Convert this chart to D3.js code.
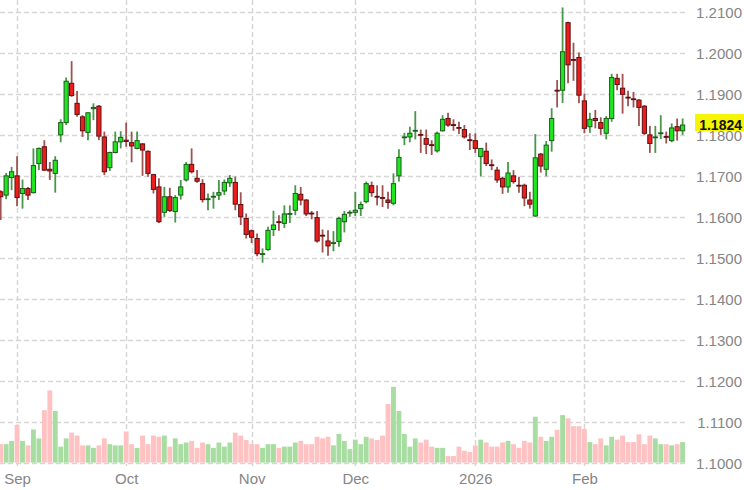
<!DOCTYPE html>
<html>
<head>
<meta charset="utf-8">
<script src="https://cdn.jsdelivr.net/npm/d3@7"></script>
<style>
  html, body { margin: 0; padding: 0; background: #ffffff; }
  svg { display: block; }
</style>
</head>
<body>
<svg id="chart" width="744" height="490"></svg>
<script>
// ---------- DATA ----------
const opens = [
  1.1661, 1.1653, 1.1696, 1.1700, 1.1657, 1.1669, 1.1659, 1.1730, 1.1771, 1.1716,
  1.1706, 1.1800, 1.1830, 1.1926, 1.1877, 1.1844, 1.1806, 1.1864, 1.1870, 1.1795,
  1.1720, 1.1757, 1.1783, 1.1787, 1.1781, 1.1767, 1.1778, 1.1760, 1.1703, 1.1673,
  1.1611, 1.1649, 1.1613, 1.1653, 1.1690, 1.1728, 1.1694, 1.1681, 1.1643, 1.1649,
  1.1653, 1.1663, 1.1683, 1.1684, 1.1630, 1.1596, 1.1566, 1.1547, 1.1509, 1.1520,
  1.1569, 1.1588, 1.1584, 1.1607, 1.1616, 1.1655, 1.1641, 1.1609, 1.1598, 1.1555,
  1.1541, 1.1535, 1.1540, 1.1588, 1.1609, 1.1611, 1.1620, 1.1637, 1.1676, 1.1650,
  1.1647, 1.1641, 1.1633, 1.1700, 1.1793, 1.1795, 1.1809, 1.1801, 1.1791, 1.1776,
  1.1761, 1.1810, 1.1840, 1.1825, 1.1818, 1.1813, 1.1788, 1.1786, 1.1747, 1.1760,
  1.1727, 1.1714, 1.1694, 1.1673, 1.1700, 1.1677, 1.1677, 1.1641, 1.1602, 1.1753,
  1.1716, 1.1786, 1.1909, 1.1909, 1.2074, 1.1984, 1.1989, 1.1883, 1.1820, 1.1840,
  1.1830, 1.1804, 1.1840, 1.1938, 1.1914, 1.1892, 1.1888, 1.1885, 1.1870, 1.1800,
  1.1793, 1.1803, 1.1796, 1.1786, 1.1820, 1.1810
];
const highs = [
  1.1665, 1.1707, 1.1722, 1.1748, 1.1691, 1.1673, 1.1767, 1.1769, 1.1787, 1.1734,
  1.1748, 1.1838, 1.1940, 1.1980, 1.1907, 1.1848, 1.1854, 1.1877, 1.1873, 1.1808,
  1.1759, 1.1808, 1.1809, 1.1830, 1.1808, 1.1808, 1.1780, 1.1762, 1.1705, 1.1694,
  1.1673, 1.1671, 1.1653, 1.1690, 1.1734, 1.1767, 1.1714, 1.1692, 1.1657, 1.1661,
  1.1690, 1.1691, 1.1702, 1.1698, 1.1660, 1.1608, 1.1569, 1.1559, 1.1523, 1.1576,
  1.1615, 1.1604, 1.1628, 1.1628, 1.1677, 1.1673, 1.1643, 1.1614, 1.1614, 1.1569,
  1.1567, 1.1565, 1.1600, 1.1614, 1.1616, 1.1661, 1.1637, 1.1686, 1.1686, 1.1677,
  1.1677, 1.1661, 1.1706, 1.1765, 1.1805, 1.1820, 1.1858, 1.1813, 1.1813, 1.1787,
  1.1808, 1.1848, 1.1854, 1.1838, 1.1832, 1.1824, 1.1804, 1.1804, 1.1767, 1.1781,
  1.1740, 1.1722, 1.1698, 1.1734, 1.1714, 1.1698, 1.1681, 1.1661, 1.1802, 1.1756,
  1.1785, 1.1865, 1.1934, 1.2111, 1.2076, 1.2025, 1.2001, 1.1901, 1.1854, 1.1861,
  1.1843, 1.1846, 1.1949, 1.1949, 1.1949, 1.1908, 1.1905, 1.1887, 1.1873, 1.1822,
  1.1822, 1.1848, 1.1808, 1.1828, 1.1840, 1.1840
];
const lows = [
  1.1592, 1.1643, 1.1665, 1.1626, 1.1620, 1.1641, 1.1657, 1.1714, 1.1712, 1.1690,
  1.1659, 1.1782, 1.1824, 1.1893, 1.1844, 1.1795, 1.1787, 1.1836, 1.1787, 1.1702,
  1.1712, 1.1755, 1.1767, 1.1771, 1.1733, 1.1765, 1.1700, 1.1698, 1.1657, 1.1585,
  1.1600, 1.1612, 1.1586, 1.1642, 1.1686, 1.1706, 1.1683, 1.1635, 1.1616, 1.1620,
  1.1641, 1.1653, 1.1673, 1.1616, 1.1580, 1.1547, 1.1536, 1.1504, 1.1488, 1.1517,
  1.1553, 1.1566, 1.1573, 1.1585, 1.1604, 1.1628, 1.1602, 1.1594, 1.1537, 1.1513,
  1.1505, 1.1516, 1.1527, 1.1562, 1.1600, 1.1602, 1.1602, 1.1633, 1.1649, 1.1628,
  1.1624, 1.1620, 1.1628, 1.1686, 1.1775, 1.1782, 1.1789, 1.1756, 1.1753, 1.1751,
  1.1757, 1.1808, 1.1820, 1.1810, 1.1802, 1.1791, 1.1763, 1.1756, 1.1699, 1.1724,
  1.1714, 1.1683, 1.1656, 1.1659, 1.1681, 1.1659, 1.1626, 1.1620, 1.1600, 1.1708,
  1.1699, 1.1759, 1.1867, 1.1878, 1.1926, 1.1932, 1.1877, 1.1804, 1.1805, 1.1816,
  1.1800, 1.1789, 1.1832, 1.1909, 1.1852, 1.1870, 1.1867, 1.1822, 1.1800, 1.1756,
  1.1756, 1.1790, 1.1779, 1.1782, 1.1786, 1.1800
];
const closes = [
  1.1649, 1.1700, 1.1710, 1.1647, 1.1669, 1.1653, 1.1725, 1.1767, 1.1714, 1.1712,
  1.1738, 1.1830, 1.1931, 1.1896, 1.1850, 1.1810, 1.1854, 1.1867, 1.1797, 1.1710,
  1.1757, 1.1783, 1.1794, 1.1784, 1.1773, 1.1786, 1.1763, 1.1706, 1.1667, 1.1588,
  1.1649, 1.1615, 1.1647, 1.1673, 1.1728, 1.1710, 1.1687, 1.1642, 1.1644, 1.1650,
  1.1659, 1.1684, 1.1694, 1.1631, 1.1600, 1.1557, 1.1550, 1.1510, 1.1510, 1.1567,
  1.1580, 1.1586, 1.1607, 1.1608, 1.1657, 1.1641, 1.1607, 1.1607, 1.1541, 1.1553,
  1.1529, 1.1537, 1.1596, 1.1606, 1.1611, 1.1616, 1.1630, 1.1681, 1.1659, 1.1648,
  1.1646, 1.1635, 1.1681, 1.1745, 1.1795, 1.1804, 1.1811, 1.1800, 1.1777, 1.1774,
  1.1804, 1.1838, 1.1824, 1.1823, 1.1817, 1.1795, 1.1786, 1.1767, 1.1767, 1.1730,
  1.1725, 1.1690, 1.1673, 1.1707, 1.1686, 1.1675, 1.1646, 1.1631, 1.1744, 1.1724,
  1.1775, 1.1840, 1.1907, 1.2003, 1.1971, 1.1982, 1.1897, 1.1816, 1.1838, 1.1835,
  1.1816, 1.1840, 1.1940, 1.1923, 1.1899, 1.1890, 1.1887, 1.1867, 1.1804, 1.1779,
  1.1795, 1.1805, 1.1795, 1.1817, 1.1810, 1.1824
];
const volumes = [
  45, 45, 53, 92, 53, 42, 81, 59, 128, 176,
  126, 39, 59, 73, 66, 42, 42, 36, 42, 59,
  45, 42, 42, 76, 45, 36, 66, 45, 66, 63,
  66, 39, 59, 45, 49, 53, 36, 49, 45, 36,
  49, 39, 49, 73, 66, 55, 45, 45, 36, 45,
  45, 36, 39, 39, 49, 53, 45, 45, 63, 59,
  63, 42, 70, 53, 33, 56, 45, 63, 59, 55,
  66, 143, 185, 126, 70, 39, 59, 49, 56, 39,
  36, 36, 16, 16, 39, 29, 26, 42, 56, 49,
  39, 39, 49, 53, 45, 36, 53, 49, 112, 63,
  53, 63, 80, 116, 108, 89, 89, 82, 50, 45,
  59, 42, 63, 56, 66, 50, 50, 69, 45, 66,
  59, 45, 45, 42, 45, 50
];
// month-start ticks: bar index and label
const xTickIndex = [3, 23, 46, 65, 87, 107];
const xTickLabels = ["Sep", "Oct", "Nov", "Dec", "2026", "Feb"];
// price ticks
const yTickValues = [1.10, 1.11, 1.12, 1.13, 1.14, 1.15, 1.16, 1.17, 1.18, 1.19, 1.20, 1.21];
const lastPrice = 1.1824;

// ---------- CHART ----------
const plotRight = 686;
const svg = d3.select("#chart");

const n = closes.length;
const x = d3.scaleLinear().domain([0, n - 1]).range([0.7, 682.6]);
const step = x(1) - x(0);
const y = d3.scaleLinear().domain([1.10, 1.21]).range([462.6, 12]);
const vh = d3.scaleLinear().domain([0, 100]).range([0, y(1.10) - y(1.11)]);

const bars = d3.range(n).map(i => ({
  i, o: opens[i], h: highs[i], l: lows[i], c: closes[i], v: volumes[i],
  up: closes[i] >= opens[i]
}));

// grid
const grid = svg.append("g").attr("stroke", "#d6d6d6").attr("stroke-width", 1.5)
  .attr("stroke-dasharray", "5,3").attr("fill", "none");
grid.selectAll("line.h").data(yTickValues).join("line")
  .attr("class", "h")
  .attr("x1", 0).attr("x2", plotRight)
  .attr("y1", d => Math.round(y(d)) + 0.5).attr("y2", d => Math.round(y(d)) + 0.5);
grid.selectAll("line.v").data(xTickIndex).join("line")
  .attr("class", "v")
  .attr("x1", d => Math.round(x(d)) + 0.5).attr("x2", d => Math.round(x(d)) + 0.5)
  .attr("y1", 0).attr("y2", 466);

// volume bars
svg.append("g").selectAll("rect").data(bars).join("rect")
  .attr("x", d => x(d.i) - step / 2 + 0.3)
  .attr("width", step - 0.6)
  .attr("y", d => y(1.10) - vh(d.v))
  .attr("height", d => vh(d.v))
  .attr("fill", d => d.up ? "#a8dda2" : "#ffc1c1");

// wicks
svg.append("g").selectAll("line").data(bars).join("line")
  .attr("x1", d => x(d.i)).attr("x2", d => x(d.i))
  .attr("y1", d => y(d.h)).attr("y2", d => y(d.l))
  .attr("stroke", d => d.up ? "#4a964a" : "#a05252")
  .attr("stroke-width", 1.8);

// bodies
const bw = 4.2;
svg.append("g").selectAll("rect").data(bars).join("rect")
  .attr("x", d => x(d.i) - bw / 2)
  .attr("width", bw)
  .attr("y", d => y(Math.max(d.o, d.c)))
  .attr("height", d => Math.max(0.8, Math.abs(y(d.o) - y(d.c))))
  .attr("fill", d => d.up ? "#1fe61f" : "#ee1c1c")
  .attr("stroke", d => d.up ? "#1d5c1d" : "#5e1010")
  .attr("stroke-width", 1);

// y axis labels (right side)
const yAxis = d3.axisRight(y).tickValues(yTickValues).tickFormat(d3.format(".4f")).tickSize(0).tickPadding(0);
const gy = svg.append("g").attr("transform", "translate(742,0)").call(yAxis);
gy.select(".domain").remove();
gy.selectAll("text")
  .attr("text-anchor", "end")
  .attr("dy", "0.36em")
  .attr("fill", "#858585")
  .style("font-family", "'Liberation Sans', Arial, sans-serif")
  .style("font-size", "15px");

// x axis labels
const xAxis = d3.axisBottom(x).tickValues(xTickIndex)
  .tickFormat((d, k) => xTickLabels[k]).tickSize(0).tickPadding(0);
const gx = svg.append("g").attr("transform", "translate(0,473)").call(xAxis);
gx.select(".domain").remove();
gx.selectAll("text")
  .attr("dy", "0.71em")
  .attr("fill", "#858585")
  .style("font-family", "'Liberation Sans', Arial, sans-serif")
  .style("font-size", "15px");

// last price tag
const lp = y(lastPrice);
const tag = svg.append("g");
tag.append("rect").attr("x", 695).attr("y", lp - 11).attr("width", 49).attr("height", 17)
  .attr("fill", "#f5f500");
tag.append("text").attr("x", 742).attr("y", lp + 5)
  .attr("text-anchor", "end")
  .attr("fill", "#111")
  .style("font-family", "'Liberation Sans', Arial, sans-serif")
  .style("font-size", "14px").style("font-weight", "bold")
  .text(d3.format(".4f")(lastPrice));
</script>
</body>
</html>
